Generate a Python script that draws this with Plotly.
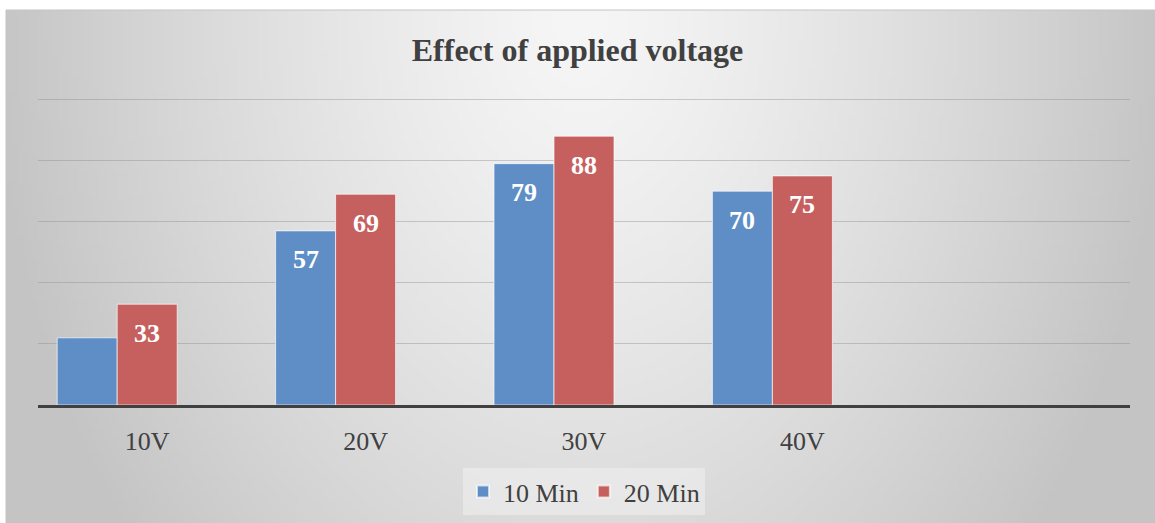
import base64
import struct
import zlib

import plotly.graph_objects as go

# ---- data ----
categories = ["10V", "20V", "30V", "40V"]
series_names = ["10 Min", "20 Min"]
values_10min = [22, 57, 79, 70]
values_20min = [33, 69, 88, 75]
labels_10min = [None, 57, 79, 70]
labels_20min = [33, 69, 88, 75]

BLUE = "#5f8ec6"
RED = "#c6605f"
TEXT = "#404040"
SERIF = "Liberation Serif, Times New Roman, serif"

# figure geometry (pixels)
W, H = 1155, 523
ML, MR, MT, MB = 38, 25, 98, 118
PW, PH = W - ML - MR, H - MT - MB
Y_TOP = 100.5


def px_to_paper_x(px):
    return (px - ML) / PW


def px_to_paper_y(py):
    return (H - MB - py) / PH


def gradient_png(w, h):
    """Soft radial grey background: light near the top centre, darker at edges."""
    rows = []
    cx, cy = w * 0.5, h * 0.02
    rx, ry = w * 0.5, h * 1.55
    for j in range(h):
        row = bytearray([0])
        for i in range(w):
            d = (((i + 0.5 - cx) / rx) ** 2 + ((j + 0.5 - cy) / ry) ** 2) ** 0.5
            v = int(max(196, min(246, 246 - 48 * d ** 1.3)))
            row += bytes([v, v, v])
        rows.append(bytes(row))
    raw = b"".join(rows)

    def chunk(tag, data):
        c = struct.pack(">I", len(data)) + tag + data
        return c + struct.pack(">I", zlib.crc32(tag + data) & 0xFFFFFFFF)

    png = b"\x89PNG\r\n\x1a\n"
    png += chunk(b"IHDR", struct.pack(">IIBBBBB", w, h, 8, 2, 0, 0, 0))
    png += chunk(b"IDAT", zlib.compress(raw, 9))
    png += chunk(b"IEND", b"")
    return "data:image/png;base64," + base64.b64encode(png).decode()


# bar geometry in category units (three slots per group, third unused)
bar_w = 60 / (PW / 5)
offsets = [-1.5 * bar_w, -0.5 * bar_w]

fig = go.Figure()
for name, vals, color, off in zip(series_names, [values_10min, values_20min],
                                  [BLUE, RED], offsets):
    fig.add_trace(go.Bar(
        name=name, x=categories, y=vals,
        width=bar_w, offset=off,
        marker=dict(color=color, line=dict(color="rgba(255,255,255,0.65)", width=1)),
        hoverinfo="skip",
    ))

# value labels inside the bar tops
annotations = []
for labels, off in zip([labels_10min, labels_20min], offsets):
    for i, lab in enumerate(labels):
        if lab is None:
            continue
        annotations.append(dict(
            x=i + off + bar_w / 2, y=lab, xref="x", yref="y",
            text=f"<b>{lab}</b>", showarrow=False, yshift=-29,
            font=dict(family=SERIF, size=26, color="white"),
        ))

# chart background panel with a thin top/left edge
x0, x1 = px_to_paper_x(6), px_to_paper_x(W)
y0, y1 = px_to_paper_y(H), px_to_paper_y(10)
images = [dict(
    source=gradient_png(230, 104), xref="paper", yref="paper",
    x=x0, y=y1, sizex=x1 - x0, sizey=y1 - y0,
    xanchor="left", yanchor="top", sizing="stretch", layer="below",
)]
edge = dict(color="#c4c4c4", width=1)
shapes = [
    dict(type="line", xref="paper", yref="paper", x0=x0, x1=x1, y0=y1, y1=y1,
         line=edge, layer="below"),
    dict(type="line", xref="paper", yref="paper", x0=x0, x1=x0, y0=y0, y1=y1,
         line=edge, layer="below"),
]

fig.update_layout(
    width=W, height=H,
    margin=dict(l=ML, r=MR, t=MT, b=MB, autoexpand=False),
    paper_bgcolor="white", plot_bgcolor="rgba(0,0,0,0)",
    title=dict(text="<b>Effect of applied voltage</b>", x=0.5, xanchor="center",
               y=1 - 50 / H, yanchor="middle",
               font=dict(family=SERIF, size=32, color=TEXT)),
    barmode="overlay",
    showlegend=True,
    legend=dict(orientation="h", x=0.5, xanchor="center",
                y=px_to_paper_y(468), yanchor="top",
                bgcolor="rgba(240,240,240,0.55)",
                font=dict(family=SERIF, size=26, color=TEXT),
                itemsizing="constant"),
    annotations=annotations,
    images=images,
    shapes=shapes,
)
fig.update_xaxes(
    type="category", range=[-0.5, 4.5],
    showline=True, linecolor="#404040", linewidth=3,
    showgrid=False, zeroline=False,
    ticks="outside", ticklen=11, tickcolor="rgba(0,0,0,0)",
    tickfont=dict(family=SERIF, size=26, color=TEXT),
)
fig.update_yaxes(
    range=[0, Y_TOP], dtick=20, showticklabels=False,
    showgrid=True, gridcolor="rgba(140,140,140,0.42)", gridwidth=1,
    zeroline=False, showline=False,
)

fig.write_html("out.html")
